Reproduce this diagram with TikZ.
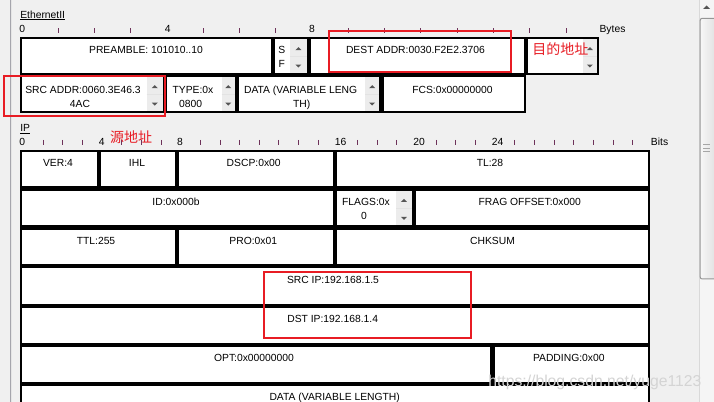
\documentclass[tikz,border=0pt]{standalone}
\usepackage{fontspec}
\setmainfont{Liberation Sans}
\newfontfamily\cjk{Noto Sans CJK SC}
\usetikzlibrary{fit}
\definecolor{bgc}{RGB}{240,240,240}
\definecolor{redmark}{RGB}{232,28,36}
\definecolor{tickc}{RGB}{110,50,90}
\definecolor{spinbg}{RGB}{236,236,236}
\definecolor{arrowc}{RGB}{85,85,85}
\definecolor{panelc}{RGB}{165,165,172}
\newcommand\fieldbox[5]{\node[fld, fit={(#2,#3) (#4,#5)}] (#1) {};}
\newcommand\spnr[4]{%
  \fill[spinbg] (#1,#2) rectangle (#3,#4);
  \draw[gray!22, line width=0.5pt] (#1,{(#2+#4)/2}) -- (#3,{(#2+#4)/2});
  \pgfmathsetmacro\spXc{(#1+#3)/2}
  \pgfmathsetmacro\spUc{#2+0.28*(#4-#2)}
  \pgfmathsetmacro\spDc{#2+0.8*(#4-#2)}
  \fill[arrowc] ({\spXc-3},{\spUc+1.5}) -- ({\spXc+3},{\spUc+1.5}) -- (\spXc,{\spUc-1.5}) -- cycle;
  \fill[arrowc] ({\spXc-3},{\spDc-1.5}) -- ({\spXc+3},{\spDc-1.5}) -- (\spXc,{\spDc+1.5}) -- cycle;
}
\begin{document}
\begin{tikzpicture}[x=0.75pt,y=-0.75pt,
  fld/.style={draw=black, fill=white, line width=1.8pt, inner sep=0pt, outer sep=0pt},
  txt/.style={inner sep=0pt, font=\fontsize{7.75}{9}\selectfont, text height=5.55pt, text depth=0pt},
  ticka/.style={draw=tickc, line width=0.75pt},
  redbox/.style={draw=redmark, line width=1.5pt},
  redtxt/.style={inner sep=0pt, font=\cjk\fontsize{10.5}{12}\selectfont, text=redmark}]
\useasboundingbox (0,0) rectangle (714,402);
\clip (0,0) rectangle (714,402);
\fill[bgc] (0,0) rectangle (714,402);
% panel border
\draw[panelc, line width=0.75pt] (10.5,0) -- (10.5,402);
\draw[gray!20, line width=0.75pt] (11.5,0) -- (11.5,402);

% ---------- Ethernet II ----------
\node[txt, anchor=west] (ethlbl) at (20,14.7) {EthernetII};
\draw[line width=0.6pt] ([yshift=-0.75pt]ethlbl.south west) -- ([yshift=-0.75pt]ethlbl.south east);
\node[txt] (eb0) at (22.3,29.3) {0};
\node[txt] (eb4) at (167.7,29.3) {4};
\node[txt] (eb8) at (312,29.3) {8};
\node[txt, anchor=west] (ebytes) at (599.3,29.3) {Bytes};
\foreach \k in {1,2,3,5,6,7,9,10,11,12,13,14,15}
  \draw[ticka] ({22+36.27*\k},28.3) -- ({22+36.27*\k},33.3);

\fieldbox{pre}{21.2}{38.2}{271.8}{73.8}
\fieldbox{sf}{274.2}{38.2}{307.8}{73.8}
\fieldbox{dest}{310.2}{38.2}{524.8}{73.8}
\fieldbox{srcc}{527.2}{38.2}{597.8}{73.8}
\fieldbox{src}{21.2}{76.2}{163.8}{111.8}
\fieldbox{type}{166.2}{76.2}{235.8}{111.8}
\fieldbox{edata}{238.2}{76.2}{380.4}{111.8}
\fieldbox{fcs}{382.8}{76.2}{524.8}{111.8}

\spnr{290}{39.3}{306.8}{72.7}
\spnr{583}{39.3}{596.8}{72.7}
\spnr{146.7}{77.3}{162.8}{110.7}
\spnr{221.7}{77.3}{234.8}{110.7}
\spnr{365}{77.3}{379.4}{110.7}

\node[txt] (tpre) at (146,50.3) {PREAMBLE: 101010..10};
\node[txt] (tsf1) at (281.7,50) {S};
\node[txt] (tsf2) at (281.7,64) {F};
\node[txt] (tdest) at (415.5,50) {DEST ADDR:0030.F2E2.3706};
\node[txt] (tsrc1) at (83,89.5) {SRC ADDR:0060.3E46.3};
\node[txt] (tsrc2) at (80,103.5) {4AC};
\node[txt] (ttype1) at (193,89.5) {TYPE:0x};
\node[txt] (ttype2) at (190.7,103.5) {0800};
\node[txt] (tdata1) at (300.6,89.5) {DATA (VARIABLE LENG};
\node[txt] (tdata2) at (301.7,103.5) {TH)};
\node[txt] (tfcs) at (452.5,89.5) {FCS:0x00000000};

% ---------- IP ----------
\node[txt, anchor=west] (iplbl) at (20,127.7) {IP};
\draw[line width=0.6pt] ([yshift=-1.2pt]iplbl.south west) -- ([yshift=-1.2pt]iplbl.south east);
\node[txt] (ib0) at (22.3,142) {0};
\node[txt] (ib4) at (101.7,142) {4};
\node[txt] (ib8) at (180,142) {8};
\node[txt] (ib16) at (340.7,142) {16};
\node[txt] (ib20) at (419,142) {20};
\node[txt] (ib24) at (497.7,142) {24};
\node[txt, anchor=west] (ibits) at (650.7,142) {Bits};
\foreach \k in {1,2,3,5,6,7,9,10,11,12,13,14,15,17,18,19,21,22,23,25,26,27,28,29,30,31}
  \draw[ticka] ({23.5+19.65*\k},140) -- ({23.5+19.65*\k},145.5);

\fieldbox{ver}{21.2}{151.2}{97.8}{187.3}
\fieldbox{ihl}{100.2}{151.2}{175.8}{187.3}
\fieldbox{dscp}{178.2}{151.2}{333.8}{187.3}
\fieldbox{tl}{336.2}{151.2}{648.8}{187.3}
\fieldbox{id}{21.2}{189.7}{333.8}{226.3}
\fieldbox{flags}{336.2}{189.7}{412.8}{226.3}
\fieldbox{frag}{415.2}{189.7}{648.8}{226.3}
\fieldbox{ttl}{21.2}{228.7}{175.8}{264.8}
\fieldbox{pro}{178.2}{228.7}{333.8}{264.8}
\fieldbox{chk}{336.2}{228.7}{648.8}{264.8}
\fieldbox{srcip}{21.2}{267.2}{648.8}{304.8}
\fieldbox{dstip}{21.2}{307.2}{648.8}{343.8}
\fieldbox{opt}{21.2}{346.2}{491.1}{382.8}
\fieldbox{pad}{493.5}{346.2}{648.8}{382.8}
\fieldbox{ipdata}{21.2}{385.2}{648.8}{418.8}

\spnr{396}{190.8}{411.9}{225.2}

\node[txt] (tver) at (58,163.3) {VER:4};
\node[txt] (tihl) at (137,163.3) {IHL};
\node[txt] (tdscp) at (253.7,163.3) {DSCP:0x00};
\node[txt] (ttl28) at (490,163.3) {TL:28};
\node[txt] (tid) at (176,202.3) {ID:0x000b};
\node[txt] (tflags1) at (366,202.3) {FLAGS:0x};
\node[txt] (tflags2) at (364,216) {0};
\node[txt] (tfrag) at (529.7,202.3) {FRAG OFFSET:0x000};
\node[txt] (tttl) at (96,240.7) {TTL:255};
\node[txt] (tpro) at (253.3,240.7) {PRO:0x01};
\node[txt] (tchk) at (492.5,240.7) {CHKSUM};
\node[txt] (tsrcip) at (333,280) {SRC IP:192.168.1.5};
\node[txt] (tdstip) at (332.7,319.3) {DST IP:192.168.1.4};
\node[txt] (topt) at (254,357.7) {OPT:0x00000000};
\node[txt] (tpad) at (568.8,357.7) {PADDING:0x00};
\node[txt] (tipdata) at (334.7,396.7) {DATA (VARIABLE LENGTH)};

% ---------- scrollbar ----------
\fill[bgc!70!white] (699,0) rectangle (714,402);
\draw[gray!30, line width=0.75pt] (699.4,0) -- (699.4,402);
\fill[arrowc] (703,9) -- (710,9) -- (706.5,5.5) -- cycle;
\draw[draw={rgb,255:red,150;green,150;blue,150}, left color=gray!6, right color=gray!24, line width=0.75pt, rounded corners=1.5pt]
  (700.2,18.3) rectangle (716,279);
\foreach \gy in {145,148.3,151.7}
  \draw[gray!70, line width=0.75pt] (703,\gy) -- (710,\gy);

% ---------- watermark ----------
\node[inner sep=0pt, anchor=west, font=\fontsize{11.8}{13}\selectfont, text=black!17, text height=8.45pt, text depth=0pt] (wm) at (488,381) {https://blog.csdn.net/yuge1123};

% ---------- red annotations ----------
\draw[redbox] (328.5,31.5) rectangle (510.5,72);
\draw[redbox] (3.5,76.5) rectangle (164.5,116);
\draw[redbox] (263.5,272) rectangle (470.5,338.5);
\node[redtxt] (rdst) at (560.3,49) {目的地址};
\node[redtxt] (rsrc) at (131,137) {源地址};
\end{tikzpicture}
\end{document}
